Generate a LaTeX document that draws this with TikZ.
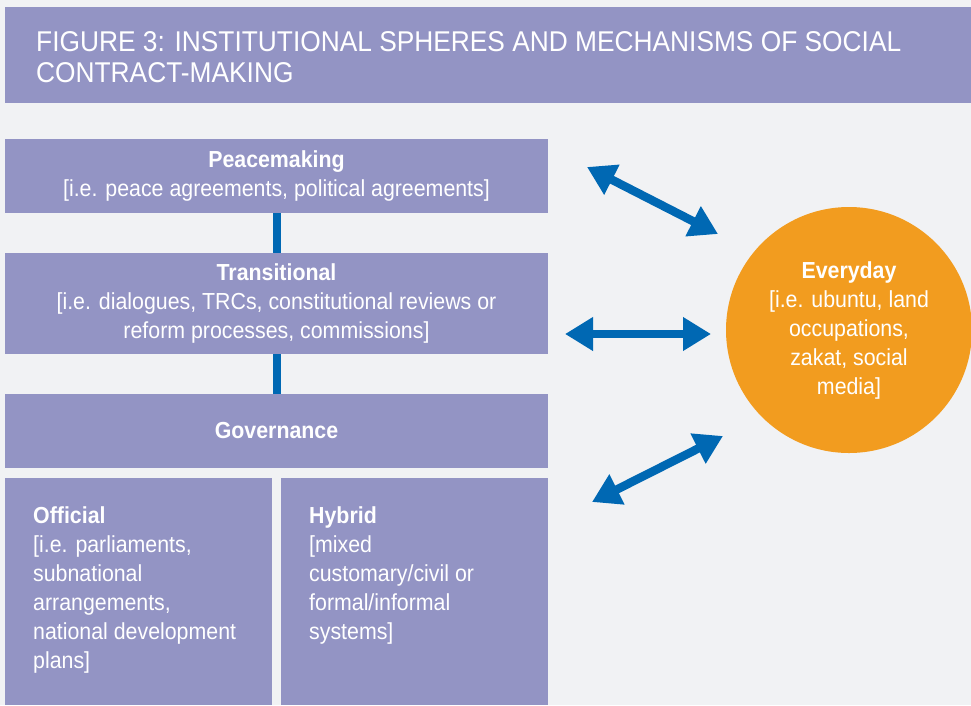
\documentclass[tikz,border=0pt]{standalone}
\usepackage{fontspec}
\setmainfont{Liberation Sans}[FakeStretch=0.92]
\usetikzlibrary{arrows.meta}

\definecolor{bandpurple}{HTML}{9394C4}
\definecolor{pagegrey}{HTML}{F1F2F4}
\definecolor{arrowblue}{HTML}{0068B3}
\definecolor{everyorange}{HTML}{F29C1F}

\tikzset{
  sphere/.style={fill=bandpurple, text=white, inner sep=0pt, align=center,
    font=\fontsize{23.2}{29}\selectfont},
  subsphere/.style={fill=bandpurple, inner sep=0pt, minimum width=267pt, minimum height=227pt},
  subtext/.style={anchor=north west, text=white, inner sep=0pt, align=left,
    font=\fontsize{23.2}{29}\selectfont},
  link/.style={draw=arrowblue, line width=8pt},
  twoway/.style={draw=arrowblue, line width=8.5pt,
    {Triangle[length=28pt,width=32pt]}-{Triangle[length=28pt,width=32pt]}},
}

\begin{document}
\begin{tikzpicture}[x=1pt,y=-1pt]
    \fill[pagegrey] (0,0) rectangle (971,705);
    \useasboundingbox (0,0) rectangle (971,705);
    \fill[bandpurple] (5,7) rectangle (971,103);
    \node[anchor=north west, text=white, inner sep=0pt, align=left,
      font=\fontsize{28.6}{31}\selectfont] (title) at (36,31)
      {FIGURE 3: INSTITUTIONAL SPHERES AND MECHANISMS OF SOCIAL\\CONTRACT-MAKING};

    \node[sphere, minimum width=543pt, minimum height=74pt ] (peace) at (276.5,176)
      {\textbf{Peacemaking}\\{}[i.e. peace agreements, political agreements]};
    \node[sphere, minimum width=543pt, minimum height=101pt] (trans) at (276.5,303.5)
      {\textbf{Transitional}\\{}[i.e. dialogues, TRCs, constitutional reviews or\\reform processes, commissions]};
    \node[sphere, minimum width=543pt, minimum height=74pt ] (gov)   at (276.5,431)
      {\textbf{Governance}};
    \node[subsphere] (official) at (138.5,591.5) {};
    \node[subsphere] (hybrid)   at (414.5,591.5) {};
    \node[subtext] (officialtext) at (33,506)
      {\textbf{Official}\\{}[i.e. parliaments,\\subnational\\arrangements,\\national development\\plans]};
    \node[subtext] (hybridtext)   at (309,506)
      {\textbf{Hybrid}\\{}[mixed\\customary/civil or\\formal/informal\\systems]};

    \node[circle, fill=everyorange, minimum size=246pt, text=white, align=center,
      font=\fontsize{23.2}{29}\selectfont] (everyday) at (849,330)
      {\textbf{Everyday}\\{}[i.e. ubuntu, land\\occupations,\\zakat, social\\media]};

    \draw[link] (peace.south) -- (trans.north);
    \draw[link] (trans.south) -- (gov.north);

    \coordinate (topleft)  at (587,167);
    \coordinate (topright) at (718,234);
    \coordinate (midleft)  at (565,334);
    \coordinate (midright) at (711,334);
    \coordinate (lowleft)  at (592,502);
    \coordinate (lowright) at (723,436);
    \draw[twoway] (topleft) -- (topright);
    \draw[twoway] (midleft) -- (midright);
    \draw[twoway] (lowleft) -- (lowright);
\end{tikzpicture}
\end{document}
